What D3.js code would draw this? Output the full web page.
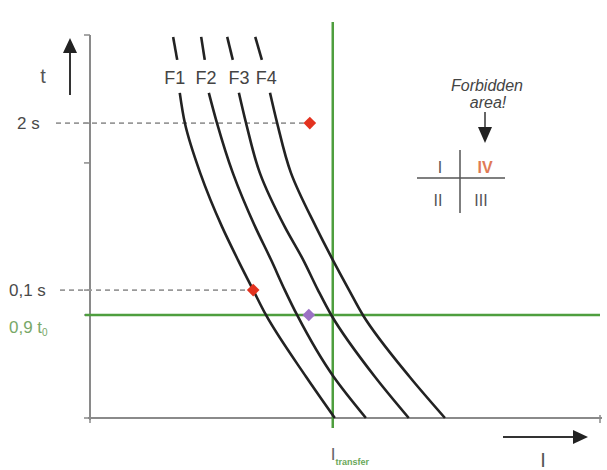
<!DOCTYPE html>
<html><head><meta charset="utf-8">
<script src="https://cdn.jsdelivr.net/npm/d3@7"></script>
<style>
html,body{margin:0;padding:0;background:#fff;}
text{font-family:"Liberation Sans",Arial,sans-serif;}
</style></head>
<body><svg id="c" width="607" height="470"></svg>
<script>
// ---- data (chart units: current 0..100, time 0..100) ----
const curveNames = ["F1","F2","F3","F4"];
const curveTimes = [99.5, 93.5, 84.9, 77.0, 64.0, 49.9, 41.3, 33.4, 26.9, 10.7, 0];
const curveF1 = [16.3, 17.1, 17.6, 18.6, 21.6, 25.9, 29.0, 32.0, 34.5, 42.4, 48.0];
const curveF2 = [21.8, 22.5, 23.3, 24.9, 28.0, 32.4, 35.5, 38.2, 40.6, 47.8, 54.1];
const curveF3 = [26.9, 28.0, 29.2, 30.6, 33.3, 38.2, 41.8, 44.7, 47.3, 55.9, 62.5];
const curveF4 = [32.4, 33.7, 35.3, 36.7, 39.4, 44.3, 47.6, 50.8, 53.5, 62.7, 69.6];
const labelGapTimes = [93.5, 84.9]; // curves interrupted between these times (labels)
const timeLevels = {t2s: 77.0, t01: 33.4, t09: 26.9};
const timeLabels = ["2 s", "0,1 s", "0,9 t"];
const iTransfer = 47.6;
const markers = [
  {name:"red2s", x:43.1, y:77.0, color:"#e3321f"},
  {name:"red01", x:32.0, y:33.4, color:"#e3321f"},
  {name:"purple", x:42.9, y:26.9, color:"#9b72c4"}
];
const yTickValues = [100, 77.0, 66.6, 33.4, 26.9, 0];
const xTickValues = [0, 47.6, 100];
const quadrantLabels = ["I","IV","II","III"];

// ---- drawing ----
const svg = d3.select("#c");
const x = d3.scaleLinear().domain([0,100]).range([90,600]);
const y = d3.scaleLinear().domain([0,100]).range([418,35]);
const axisColor = "#8a8a8a", green = "#4e9e3e", txt = "#555";

// y axis
svg.append("line").attr("x1",x(0)).attr("x2",x(0)).attr("y1",y(100)).attr("y2",y(0)+2)
  .attr("stroke",axisColor).attr("stroke-width",2);
svg.selectAll(".yt").data(yTickValues).join("line")
  .attr("x1",x(0)-6).attr("x2",x(0)).attr("y1",d=>y(d)).attr("y2",d=>y(d))
  .attr("stroke",axisColor).attr("stroke-width",1.5);
// x axis
svg.append("line").attr("x1",x(0)-2).attr("x2",x(100)+2).attr("y1",y(0)).attr("y2",y(0))
  .attr("stroke",axisColor).attr("stroke-width",2);
svg.selectAll(".xt").data(xTickValues).join("line")
  .attr("x1",d=>x(d)).attr("x2",d=>x(d)).attr("y1",y(0)-3).attr("y2",y(0)+5)
  .attr("stroke",axisColor).attr("stroke-width",1.5);

// dashed reference lines
svg.append("line").attr("x1",56).attr("x2",x(markers[0].x)-6)
  .attr("y1",y(timeLevels.t2s)).attr("y2",y(timeLevels.t2s))
  .attr("stroke","#999").attr("stroke-width",1.6).attr("stroke-dasharray","5,4");
svg.append("line").attr("x1",60).attr("x2",x(markers[1].x)-6)
  .attr("y1",y(timeLevels.t01)).attr("y2",y(timeLevels.t01))
  .attr("stroke","#999").attr("stroke-width",1.6).attr("stroke-dasharray","5,4");

// green lines
svg.append("line").attr("x1",x(iTransfer)).attr("x2",x(iTransfer)).attr("y1",22).attr("y2",y(0)+10)
  .attr("stroke",green).attr("stroke-width",2.5);
svg.append("line").attr("x1",x(0)-5).attr("x2",x(100)).attr("y1",y(timeLevels.t09)).attr("y2",y(timeLevels.t09))
  .attr("stroke",green).attr("stroke-width",2.5);

// curves
const allCurves = [curveF1, curveF2, curveF3, curveF4];
const line = d3.line().x(d=>x(d[0])).y(d=>y(d[1])).curve(d3.curveMonotoneY);
const labelOffsets = [-2, 1, 6, 4];
allCurves.forEach((xs,i)=>{
  const pts = xs.map((v,j)=>[v, curveTimes[j]]);
  const top = pts.filter(p=>p[1]>=labelGapTimes[0]);
  const bottom = pts.filter(p=>p[1]<=labelGapTimes[1]);
  svg.append("path").attr("d",d3.line().x(d=>x(d[0])).y(d=>y(d[1]))(top))
    .attr("fill","none").attr("stroke","#222").attr("stroke-width",2.6);
  svg.append("path").attr("d",line(bottom))
    .attr("fill","none").attr("stroke","#222").attr("stroke-width",2.6);
  const mid = (top[0][0]+top[top.length-1][0]+bottom[0][0])/3;
  svg.append("text").attr("x",x(mid)+labelOffsets[i]).attr("y",84)
    .attr("text-anchor","middle").attr("font-size",18).attr("fill","#444").text(curveNames[i]);
});

// markers
svg.selectAll(".mk").data(markers).join("path")
  .attr("d",d3.symbol(d3.symbolSquare,80))
  .attr("transform",d=>`translate(${x(d.x)},${y(d.y)}) rotate(45)`)
  .attr("fill",d=>d.color);

// time labels
svg.append("text").attr("x",17).attr("y",y(timeLevels.t2s)+6).attr("font-size",17).attr("fill","#4a4a4a").text(timeLabels[0]);
svg.append("text").attr("x",9).attr("y",y(timeLevels.t01)+6).attr("font-size",17).attr("fill","#4a4a4a").text(timeLabels[1]);
const t09 = svg.append("text").attr("x",9).attr("y",y(timeLevels.t09)+18).attr("font-size",17).attr("fill","#78a868");
t09.append("tspan").text(timeLabels[2]);
t09.append("tspan").attr("font-size",10).attr("dy",3).text("0");

// t arrow
svg.append("line").attr("x1",70).attr("x2",70).attr("y1",95).attr("y2",50).attr("stroke","#333").attr("stroke-width",2);
svg.append("path").attr("d","M70,38 L63,53 L77,53 Z").attr("fill","#222");
svg.append("text").attr("x",43).attr("y",83).attr("font-size",20).attr("fill",txt).attr("text-anchor","middle").text("t");

// I arrow
svg.append("line").attr("x1",503).attr("x2",575).attr("y1",437).attr("y2",437).attr("stroke","#333").attr("stroke-width",2);
svg.append("path").attr("d","M588,437 L573,430 L573,444 Z").attr("fill","#222");
svg.append("text").attr("x",543).attr("y",467).attr("font-size",20).attr("fill",txt).attr("text-anchor","middle").text("I");

// I transfer label
const it = svg.append("text").attr("x",x(iTransfer)-2).attr("y",460).attr("font-size",17).attr("fill","#666");
it.append("tspan").text("I");
it.append("tspan").attr("font-size",9).attr("font-weight","bold").attr("fill","#6aa85a").attr("dy",5).text("transfer");

// Forbidden area
svg.append("text").attr("x",487).attr("y",91).attr("font-size",16).attr("font-style","italic").attr("fill","#444").attr("text-anchor","middle").text("Forbidden");
svg.append("text").attr("x",488).attr("y",108).attr("font-size",16).attr("font-style","italic").attr("fill","#444").attr("text-anchor","middle").text("area!");
svg.append("line").attr("x1",485).attr("x2",485).attr("y1",112).attr("y2",128).attr("stroke","#333").attr("stroke-width",1.5);
svg.append("path").attr("d","M485,143 L478,127 L492,127 Z").attr("fill","#222");
// quadrant cross
svg.append("line").attr("x1",460).attr("x2",460).attr("y1",150).attr("y2",213).attr("stroke","#555").attr("stroke-width",1.5);
svg.append("line").attr("x1",417).attr("x2",505).attr("y1",178).attr("y2",178).attr("stroke","#555").attr("stroke-width",1.5);
const qpos = [[440,173,"#555"],[485,173,"#e07a55"],[438,206,"#555"],[481,206,"#555"]];
quadrantLabels.forEach((q,i)=>{
  svg.append("text").attr("x",qpos[i][0]).attr("y",qpos[i][1]).attr("font-size",16)
    .attr("text-anchor","middle").attr("fill",qpos[i][2]).attr("font-weight", i===1?"bold":"normal").text(q);
});
</script></body></html>
